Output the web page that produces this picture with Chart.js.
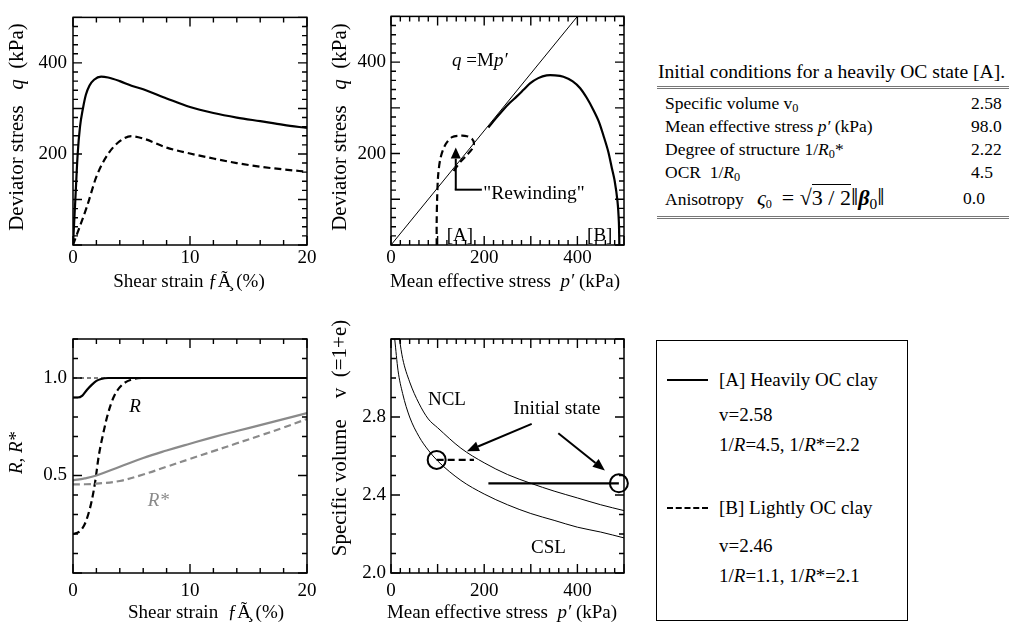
<!DOCTYPE html>
<html>
<head>
<meta charset="utf-8">
<script src="https://cdn.jsdelivr.net/npm/chart.js@4.4.1/dist/chart.umd.min.js"></script>
<style>
  body { margin: 0; background: #fff; }
  #wrap { position: relative; width: 1009px; height: 622px; overflow: hidden;
          font-family: "Liberation Serif", serif; color: #000; }
  canvas { position: absolute; }
  .t { position: absolute; white-space: nowrap; font-size: 17.5px; line-height: 20px; }
  .lg { font-size: 19px; line-height: 22px; }
  sub { font-size: 0.7em; vertical-align: -0.25em; line-height: 0; }
  .rule { position: absolute; left: 657px; width: 352px; border-top: 3px double #777; }
  .m { font-size: 22px; }
</style>
</head>
<body>
<div id="wrap">
  <canvas id="c1" width="330" height="300" style="left:0;top:0"></canvas>
  <canvas id="c2" width="310" height="300" style="left:330px;top:0"></canvas>
  <canvas id="c4" width="330" height="322" style="left:0;top:300px"></canvas>
  <canvas id="c5" width="310" height="322" style="left:330px;top:300px"></canvas>

  <!-- table of initial conditions -->
  <div class="t" style="left:658px;top:61px;font-size:19.6px;line-height:22px">Initial conditions for a heavily OC state [A].</div>
  <div class="rule" style="top:86px"></div>
  <div class="t" style="left:665px;top:93px">Specific volume v<sub>0</sub></div>
  <div class="t" style="left:971px;top:93px">2.58</div>
  <div class="t" style="left:665px;top:116px">Mean effective stress <i>p&#8242;</i> (kPa)</div>
  <div class="t" style="left:971px;top:116px">98.0</div>
  <div class="t" style="left:665px;top:139px">Degree of structure 1/<i>R</i><sub>0</sub>*</div>
  <div class="t" style="left:971px;top:139px">2.22</div>
  <div class="t" style="left:665px;top:162px">OCR&nbsp; 1/<i>R</i><sub>0</sub></div>
  <div class="t" style="left:971px;top:162px">4.5</div>
  <div class="t" style="left:665px;top:185px;line-height:24px">Anisotropy&nbsp;&nbsp; <i class="m">&#962;</i><sub>0</sub> <span class="m">&nbsp;=&nbsp;</span><span class="m">&#8730;<span style="border-top:1px solid #000">3 / 2</span><span style="font-size:26px">&#8214;</span><b><i>&#946;</i></b><sub>0</sub><span style="font-size:26px">&#8214;</span></span></div>
  <div class="t" style="left:963px;top:188px">0.0</div>
  <div class="rule" style="top:216px"></div>

  <!-- legend box -->
  <div style="position:absolute;left:656px;top:340px;width:250px;height:279px;border:1.5px solid #000"></div>
  <div style="position:absolute;left:667px;top:379px;width:41px;border-top:2px solid #000"></div>
  <div style="position:absolute;left:667px;top:507px;width:41px;border-top:2px dashed #000"></div>
  <div class="t lg" style="left:719px;top:369px">[A] Heavily OC clay</div>
  <div class="t lg" style="left:719px;top:404px">v=2.58</div>
  <div class="t lg" style="left:719px;top:434px">1/<i>R</i>=4.5, 1/<i>R</i>*=2.2</div>
  <div class="t lg" style="left:719px;top:497px">[B] Lightly OC clay</div>
  <div class="t lg" style="left:719px;top:535px">v=2.46</div>
  <div class="t lg" style="left:719px;top:565px">1/<i>R</i>=1.1, 1/<i>R</i>*=2.1</div>
</div>

<script>
/******************************************************
 * DATA
 ******************************************************/
// deviator stress q vs shear strain
const strainA = [0, 0.2, 0.4, 0.6, 0.85, 1.1, 1.4, 1.8, 2.4, 3, 4, 5, 6, 8, 10, 12, 14, 16, 18, 20];
const devA    = [0, 100, 200, 260, 300, 330, 350, 363, 370, 368, 360, 350, 342, 322, 303, 290, 280, 272, 264, 257];
const strainB = [0, 0.5, 1.2, 2, 3, 4, 5, 6, 8, 10, 12, 14, 16, 18, 20];
const devB    = [0, 35, 85, 150, 200, 228, 239, 234, 214, 201, 190, 180, 172, 166, 161];

// effective stress paths
const pathPA = [490, 489, 486, 480, 474, 466, 456, 446, 434, 420, 406, 390, 370, 352, 334, 316, 299, 285, 270, 255, 241, 225, 209];
const pathQA = [0, 50, 96, 140, 168, 205, 239, 270, 296, 322, 343, 358, 368, 371, 371, 365, 354, 340, 325, 311, 296, 277, 257];
const pathPB = [98, 98, 99, 101, 106, 116, 131, 149, 163, 174, 178, 174, 162, 150, 140, 134];
const pathQB = [0, 50, 100, 150, 189, 218, 236, 239, 238, 232, 222, 210, 196, 183, 170, 161];
const mLineP = [0, 400];
const mLineQ = [0, 500];

// R and R*
const rStrainA = [0, 0.4, 0.8, 1.2, 1.6, 2.0, 2.4, 3.0, 4.0, 20];
const rA       = [0.90, 0.90, 0.91, 0.94, 0.965, 0.985, 0.995, 1.0, 1.0, 1.0];
const rStrainB = [0, 0.3, 0.6, 1.0, 1.3, 1.6, 1.9, 2.2, 2.6, 3.0, 3.5, 4.2, 5.2, 6, 20];
const rB       = [0.2, 0.205, 0.215, 0.25, 0.30, 0.37, 0.47, 0.6, 0.72, 0.82, 0.905, 0.965, 0.995, 1.0, 1.0];
const rsStrain = [0, 1, 2, 4, 6, 8, 10, 12, 14, 16, 18, 20];
const rsA      = [0.475, 0.485, 0.5, 0.545, 0.59, 0.628, 0.663, 0.697, 0.728, 0.758, 0.789, 0.82];
const rsB      = [0.455, 0.455, 0.458, 0.472, 0.505, 0.545, 0.585, 0.625, 0.665, 0.705, 0.746, 0.79];

// specific volume vs mean effective stress
const nclP = [18, 25, 40, 60, 80, 100, 150, 200, 250, 300, 350, 400, 450, 500];
const nclV = [3.20, 3.10, 2.98, 2.87, 2.79, 2.745, 2.64, 2.565, 2.505, 2.46, 2.42, 2.385, 2.35, 2.32];
const cslP = [8, 15, 25, 40, 60, 80, 100, 150, 200, 250, 300, 350, 400, 450, 500];
const cslV = [3.20, 3.04, 2.92, 2.80, 2.70, 2.63, 2.575, 2.475, 2.405, 2.35, 2.305, 2.27, 2.235, 2.21, 2.18];
const initP = [98, 489];
const initV = [2.58, 2.46];
const swellBP = [98, 178];
const swellBV = [2.58, 2.58];
const swellAP = [209, 489];
const swellAV = [2.46, 2.46];

// tick labels
const strainTicks = [0, 10, 20];
const pTicks = [0, 200, 400];
const qTicks = [200, 400];
const rTicks = [0.5, 1.0];
const vTicks = [2.0, 2.4, 2.8];

/******************************************************
 * HELPERS
 ******************************************************/
const SERIF = '"Liberation Serif", serif';
const GRAY = "#8a8a8a";

function pts(xs, ys) {
  return xs.map((x, i) => ({ x: x, y: ys[i] }));
}

function line(xs, ys, color, width, dash, extra) {
  return Object.assign({
    data: pts(xs, ys),
    showLine: true,
    borderColor: color,
    borderWidth: width,
    borderDash: dash || [],
    pointRadius: 0,
    fill: false,
    tension: 0.3
  }, extra || {});
}

function axis(min, max, labels, fmt, fit, pad, horizontal) {
  return {
    type: "linear", min: min, max: max,
    grid: { display: false, drawTicks: false },
    border: { display: false },
    ticks: {
      color: "#000", font: { family: SERIF, size: 19 }, padding: pad,
      autoSkip: false, maxRotation: 0, callback: v => fmt(v)
    },
    afterBuildTicks: s => { s.ticks = labels.map(v => ({ value: v })); },
    afterFit: s => { if (horizontal) s.height = fit; else s.width = fit; }
  };
}

// text made of runs, some italic
function runs(ctx, parts, x, y, size, angle, align) {
  ctx.save();
  ctx.translate(x, y);
  ctx.rotate(angle || 0);
  ctx.textBaseline = "middle";
  const fonts = parts.map(p => (p.i ? "italic " : "") + size + "px " + SERIF);
  let w = 0;
  parts.forEach((p, k) => { ctx.font = fonts[k]; w += ctx.measureText(p.t).width; });
  let cx = align === "left" ? 0 : -w / 2;
  parts.forEach((p, k) => {
    ctx.font = fonts[k];
    ctx.fillStyle = p.c || "#000";
    ctx.fillText(p.t, cx, 0);
    cx += ctx.measureText(p.t).width;
  });
  ctx.restore();
}

function arrow(ctx, x1, y1, x2, y2, len, half) {
  const a = Math.atan2(y2 - y1, x2 - x1);
  const bx = x2 - len * Math.cos(a), by = y2 - len * Math.sin(a);
  ctx.beginPath();
  ctx.moveTo(x1, y1);
  ctx.lineTo(bx, by);
  ctx.stroke();
  ctx.beginPath();
  ctx.moveTo(x2, y2);
  ctx.lineTo(bx + half * Math.sin(a), by - half * Math.cos(a));
  ctx.lineTo(bx - half * Math.sin(a), by + half * Math.cos(a));
  ctx.closePath();
  ctx.fill();
}

// box and inward ticks on all four sides
function drawFrame(chart, m) {
  const ctx = chart.ctx, a = chart.chartArea;
  const x = chart.scales.x, y = chart.scales.y;
  ctx.save();
  ctx.setLineDash([]);
  ctx.strokeStyle = "#000";
  ctx.lineWidth = 1.4;
  ctx.beginPath();
  const nx = Math.round((m.x[1] - m.x[0]) / m.x[2]);
  for (let i = 0; i <= nx; i++) {
    const px = x.getPixelForValue(m.x[0] + i * m.x[2]);
    const len = i % m.x[3] === 0 ? 9 : 5;
    ctx.moveTo(px, a.bottom);
    ctx.lineTo(px, a.bottom - len);
    ctx.moveTo(px, a.top);
    ctx.lineTo(px, a.top + len);
  }
  const ny = Math.round((m.y[1] - m.y[0]) / m.y[2]);
  for (let i = 0; i <= ny; i++) {
    const py = y.getPixelForValue(m.y[0] + i * m.y[2]);
    const len = i % m.y[3] === 0 ? 9 : 5;
    ctx.moveTo(a.left, py);
    ctx.lineTo(a.left + len, py);
    ctx.moveTo(a.right, py);
    ctx.lineTo(a.right - len, py);
  }
  ctx.stroke();
  ctx.lineWidth = 1.5;
  ctx.strokeRect(a.left, a.top, a.right - a.left, a.bottom - a.top);
  ctx.restore();
}

function panel(id, cfg) {
  return new Chart(document.getElementById(id), {
    type: "scatter",
    data: { datasets: cfg.datasets },
    options: {
      responsive: false, animation: false, events: [],
      layout: { padding: { left: 0, bottom: 0, top: cfg.top, right: cfg.right } },
      plugins: { legend: { display: false }, tooltip: { enabled: false } },
      scales: { x: cfg.x, y: cfg.y }
    },
    plugins: [{
      id: "notes",
      afterDatasetsDraw(chart) {
        cfg.notes(chart);
        drawFrame(chart, cfg.marks);
      }
    }]
  });
}

const plain = v => String(v);
const oneDec = v => v.toFixed(1);
const DASH = [7, 4];
const UP = -Math.PI / 2;

/******************************************************
 * q - SHEAR STRAIN
 ******************************************************/
panel("c1", {
  top: 12, right: 23,
  x: axis(0, 20, strainTicks, plain, 55, 2, true),
  y: axis(0, 500, qTicks, plain, 73, 6, false),
  marks: { x: [0, 20, 2, 5], y: [0, 500, 20, 5] },
  datasets: [
    line(strainA, devA, "#000", 2.2, [], { cubicInterpolationMode: "monotone" }),
    line(strainB, devB, "#000", 2.2, DASH, { cubicInterpolationMode: "monotone" })
  ],
  notes(chart) {
    const ctx = chart.ctx;
    runs(ctx, [{ t: "Deviator stress   " }, { t: "q", i: true }, { t: "  (kPa)" }], 17, 127, 21, UP);
    runs(ctx, [{ t: "Shear strain ƒÃ\u0327 (%)" }], 189, 282, 19);
  }
});

/******************************************************
 * STRESS PATHS
 ******************************************************/
panel("c2", {
  top: 12, right: 16,
  x: axis(0, 500, pTicks, plain, 55, 2, true),
  y: axis(0, 500, qTicks, plain, 61, 5, false),
  marks: { x: [0, 500, 20, 5], y: [0, 500, 20, 5] },
  datasets: [
    line(mLineP, mLineQ, "#000", 1, [], { tension: 0 }),
    line(pathPA, pathQA, "#000", 2.2),
    line(pathPB, pathQB, "#000", 2.2, DASH)
  ],
  notes(chart) {
    const ctx = chart.ctx, x = chart.scales.x, y = chart.scales.y;
    runs(ctx, [{ t: "Deviator stress   " }, { t: "q", i: true }, { t: "  (kPa)" }], 10, 127, 21, UP);
    runs(ctx, [{ t: "Mean effective stress  " }, { t: "p\u2032", i: true }, { t: " (kPa)" }], 175, 282, 19);
    runs(ctx, [{ t: "q", i: true }, { t: " =M" }, { t: "p\u2032", i: true }], x.getPixelForValue(131), y.getPixelForValue(402), 19, 0, "left");
    runs(ctx, [{ t: "[A]" }], x.getPixelForValue(148), y.getPixelForValue(19), 19);
    runs(ctx, [{ t: "[B]" }], x.getPixelForValue(448), y.getPixelForValue(19), 19);
    ctx.save();
    ctx.strokeStyle = "#000"; ctx.fillStyle = "#000"; ctx.lineWidth = 2;
    const ax = x.getPixelForValue(139), ay = y.getPixelForValue(121);
    arrow(ctx, ax, ay, ax, y.getPixelForValue(213), 11, 5);
    ctx.beginPath();
    ctx.moveTo(ax - 1, ay); ctx.lineTo(x.getPixelForValue(195), ay);
    ctx.stroke();
    ctx.restore();
    runs(ctx, [{ t: "\"Rewinding\"" }], x.getPixelForValue(198), y.getPixelForValue(112), 19.5, 0, "left");
  }
});

/******************************************************
 * R, R* - SHEAR STRAIN
 ******************************************************/
panel("c4", {
  top: 39, right: 23,
  x: axis(0, 20, strainTicks, plain, 49, 7, true),
  y: axis(0, 1.2, rTicks, oneDec, 73, 6, false),
  marks: { x: [0, 20, 2, 5], y: [0, 1.2, 0.1, 5] },
  datasets: [
    line([0, 20], [1, 1], "#000", 1, [4, 3], { tension: 0 }),
    line(rsStrain, rsA, GRAY, 2.2, [], { tension: 0.4 }),
    line(rsStrain, rsB, GRAY, 2.2, DASH, { tension: 0.4 }),
    line(rStrainA, rA, "#000", 2.2, [], { cubicInterpolationMode: "monotone" }),
    line(rStrainB, rB, "#000", 2.2, DASH, { cubicInterpolationMode: "monotone" })
  ],
  notes(chart) {
    const ctx = chart.ctx, x = chart.scales.x, y = chart.scales.y;
    runs(ctx, [{ t: "R, R*", i: true }], 17, 153, 19, UP);
    runs(ctx, [{ t: "Shear strain  ƒÃ\u0327 (%)" }], 206, 313, 19);
    runs(ctx, [{ t: "R", i: true }], x.getPixelForValue(5.3), y.getPixelForValue(0.853), 19);
    runs(ctx, [{ t: "R*", i: true, c: GRAY }], x.getPixelForValue(7.3), y.getPixelForValue(0.367), 19);
  }
});

/******************************************************
 * v - p'
 ******************************************************/
panel("c5", {
  top: 39, right: 16,
  x: axis(0, 500, pTicks, plain, 49, 7, true),
  y: axis(2.0, 3.2, vTicks, oneDec, 61, 5, false),
  marks: { x: [0, 500, 20, 5], y: [2.0, 3.2, 0.1, 4] },
  datasets: [
    line(nclP, nclV, "#000", 1, [], { cubicInterpolationMode: "monotone" }),
    line(cslP, cslV, "#000", 1, [], { cubicInterpolationMode: "monotone" }),
    line(swellBP, swellBV, "#000", 2.2, DASH, { tension: 0 }),
    line(swellAP, swellAV, "#000", 2.2, [], { tension: 0 }),
    {
      data: pts(initP, initV), showLine: false, pointRadius: 9, pointBorderWidth: 2,
      pointBorderColor: "#000", pointBackgroundColor: "rgba(0,0,0,0)", clip: false
    }
  ],
  notes(chart) {
    const ctx = chart.ctx, x = chart.scales.x, y = chart.scales.y;
    runs(ctx, [{ t: "Specific volume    v  (=1+e)" }], 10, 138, 21, UP);
    runs(ctx, [{ t: "Mean effective stress  " }, { t: "p\u2032", i: true }, { t: " (kPa)" }], 172, 313, 19);
    runs(ctx, [{ t: "NCL" }], x.getPixelForValue(120), y.getPixelForValue(2.887), 19);
    runs(ctx, [{ t: "CSL" }], x.getPixelForValue(338), y.getPixelForValue(2.126), 19);
    runs(ctx, [{ t: "Initial state" }], x.getPixelForValue(356), y.getPixelForValue(2.843), 19.5);
    ctx.save();
    ctx.strokeStyle = "#000"; ctx.fillStyle = "#000"; ctx.lineWidth = 2;
    arrow(ctx, x.getPixelForValue(302), y.getPixelForValue(2.765), x.getPixelForValue(163), y.getPixelForValue(2.625), 12, 5);
    arrow(ctx, x.getPixelForValue(359), y.getPixelForValue(2.717), x.getPixelForValue(459), y.getPixelForValue(2.526), 12, 5);
    ctx.restore();
  }
});
</script>
</body>
</html>
